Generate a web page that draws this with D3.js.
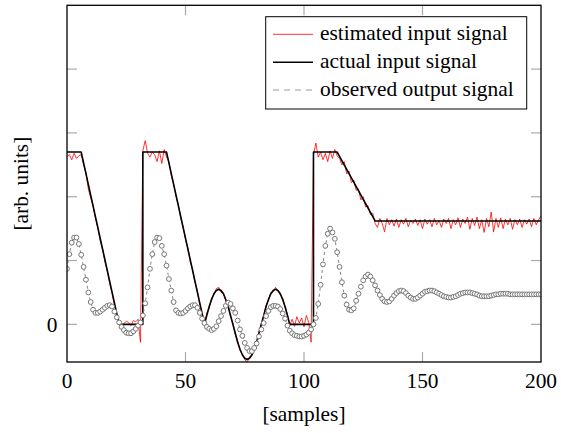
<!DOCTYPE html>
<html>
<head>
<meta charset="utf-8">
<script src="https://cdn.jsdelivr.net/npm/d3@7"></script>
<style>
  body { margin: 0; background: #fff; }
</style>
</head>
<body>
<svg id="chart" width="561" height="433" font-family="'Liberation Serif', 'Times New Roman', Times, 'DejaVu Serif', serif"></svg>
<script>
// actual input: corner points of the piecewise signal, sine part read per sample
const actualX = [0, 6, 22, 32, 32, 42, 58,
  59, 60, 61, 62, 63, 64, 65, 66, 67, 68, 69, 70, 71, 72, 73, 74, 75, 76,
  77, 78, 79, 80, 81, 82, 83, 84, 85, 86, 87, 88, 89, 90, 91, 92, 93,
  94, 104, 104, 114, 130, 200];
const actualY = [2.70, 2.70, 0, 0, 2.70, 2.70, 0,
  0.14, 0.28, 0.39, 0.48, 0.53, 0.55, 0.53, 0.48, 0.39, 0.28, 0.14, 0, -0.14, -0.28, -0.39, -0.48, -0.53, -0.55,
  -0.53, -0.48, -0.39, -0.28, -0.14, 0, 0.14, 0.28, 0.39, 0.48, 0.53, 0.55, 0.53, 0.48, 0.39, 0.28, 0.14,
  0, 0, 2.70, 2.70, 1.62, 1.62];

// estimated input, one value per sample 0..200
const estimated = [
  2.62, 2.66, 2.58, 2.68, 2.60, 2.64, 2.66, 2.50, 2.38, 2.12,
  1.98, 1.86, 1.66, 1.52, 1.31, 1.18, 0.98, 0.84, 0.64, 0.50,
  0.30, 0.16, 0.02, -0.03, 0.01, 0.05, 0.03, -0.02, 0.06, 0.04,
  0.08, -0.28, 2.72, 2.88, 2.68, 2.62, 2.70, 2.66, 2.55, 2.72,
  2.52, 2.74, 2.62, 2.55, 2.33, 2.20, 2.00, 1.88, 1.66, 1.53,
  1.33, 1.20, 0.98, 0.86, 0.66, 0.52, 0.32, 0.19, 0.03, 0.18,
  0.25, 0.41, 0.46, 0.56, 0.58, 0.50, 0.49, 0.36, 0.29, 0.12,
  0.02, -0.16, -0.26, -0.41, -0.46, -0.55, -0.60, -0.51, -0.49, -0.37,
  -0.29, -0.12, 0.02, 0.12, 0.30, 0.37, 0.50, 0.51, 0.58, 0.52,
  0.46, 0.41, 0.26, 0.16, -0.02, 0.08, -0.03, 0.12, 0.02, 0.10,
  -0.04, 0.14, 0.03, -0.28, 2.66, 2.84, 2.62, 2.70, 2.58, 2.68,
  2.55, 2.72, 2.60, 2.74, 2.64, 2.60, 2.50, 2.55, 2.36, 2.40,
  2.22, 2.26, 2.10, 2.12, 1.95, 2.00, 1.84, 1.86, 1.72, 1.74,
  1.58, 1.52, 1.66, 1.58, 1.45, 1.66, 1.56, 1.64, 1.54, 1.65,
  1.52, 1.64, 1.57, 1.66, 1.53, 1.63, 1.58, 1.65, 1.55, 1.64,
  1.50, 1.65, 1.57, 1.64, 1.53, 1.66, 1.56, 1.63, 1.52, 1.65,
  1.58, 1.66, 1.50, 1.64, 1.56, 1.67, 1.52, 1.65, 1.58, 1.68,
  1.49, 1.66, 1.55, 1.68, 1.50, 1.64, 1.44, 1.66, 1.53, 1.76,
  1.45, 1.66, 1.52, 1.67, 1.50, 1.65, 1.56, 1.66, 1.49, 1.64,
  1.56, 1.65, 1.52, 1.64, 1.57, 1.65, 1.53, 1.66, 1.56, 1.64,
  1.70
];

// observed output, one value per sample 0..200
const observed = [
  0.87, 1.10, 1.28, 1.36, 1.36, 1.26, 1.09, 0.90, 0.70, 0.50,
  0.35, 0.23, 0.18, 0.18, 0.20, 0.23, 0.26, 0.29, 0.30, 0.28,
  0.20, 0.11, 0.03, -0.04, -0.09, -0.13, -0.14, -0.14, -0.11, -0.07,
  -0.02, 0.03, 0.14, 0.33, 0.58, 0.87, 1.10, 1.29, 1.36, 1.35,
  1.23, 1.10, 0.92, 0.71, 0.53, 0.35, 0.22, 0.18, 0.17, 0.18,
  0.21, 0.25, 0.28, 0.30, 0.30, 0.26, 0.18, 0.09, 0.02, -0.04,
  -0.07, -0.09, -0.07, -0.03, 0.05, 0.13, 0.21, 0.29, 0.34, 0.32,
  0.25, 0.18, 0.06, -0.08, -0.18, -0.29, -0.37, -0.42, -0.42, -0.37,
  -0.30, -0.19, -0.08, 0.02, 0.13, 0.21, 0.27, 0.29, 0.29, 0.28,
  0.24, 0.17, 0.09, -0.02, -0.10, -0.14, -0.17, -0.18, -0.19, -0.19,
  -0.18, -0.16, -0.13, -0.08, 0.00, 0.10, 0.32, 0.62, 0.94, 1.23,
  1.42, 1.50, 1.44, 1.34, 1.13, 0.90, 0.66, 0.45, 0.31, 0.23,
  0.22, 0.25, 0.37, 0.48, 0.59, 0.69, 0.75, 0.78, 0.75, 0.69,
  0.61, 0.53, 0.46, 0.40, 0.36, 0.35, 0.36, 0.40, 0.45, 0.49,
  0.52, 0.53, 0.52, 0.49, 0.45, 0.42, 0.40, 0.40, 0.42, 0.45,
  0.48, 0.51, 0.52, 0.53, 0.53, 0.52, 0.50, 0.48, 0.46, 0.44,
  0.43, 0.42, 0.42, 0.43, 0.44, 0.46, 0.48, 0.49, 0.50, 0.50,
  0.50, 0.49, 0.48, 0.47, 0.45, 0.44, 0.44, 0.44, 0.44, 0.45,
  0.46, 0.47, 0.47, 0.48, 0.48, 0.48, 0.48, 0.47, 0.47, 0.47,
  0.47, 0.47, 0.47, 0.47, 0.47, 0.47, 0.47, 0.47, 0.47, 0.47,
  0.47
];

const xTicks = [0, 50, 100, 150, 200];
const yTicks = [0, 1, 2, 3, 4];
const yTickLabels = ["0", "", "", "", ""];
const legendLabels = ["estimated input signal", "actual input signal", "observed output signal"];

const plotLeft = 67, plotRight = 541, plotTop = 5.3, plotBottom = 362;
const fontSize = 21.4;

const svg = d3.select("#chart");

const x = d3.scaleLinear().domain([0, 200]).range([plotLeft, plotRight]);
const y = d3.scaleLinear().domain([-0.59, 5]).range([plotBottom, plotTop]);

svg.append("defs").append("clipPath")
    .attr("id", "plotClip")
    .append("rect")
    .attr("x", plotLeft).attr("y", plotTop)
    .attr("width", plotRight - plotLeft).attr("height", plotBottom - plotTop);

const plot = svg.append("g").attr("clip-path", "url(#plotClip)");

const line = d3.line().x(d => x(d[0])).y(d => y(d[1]));

// estimated input (red)
plot.append("path")
    .datum(estimated.map((v, i) => [i, v]))
    .attr("d", line)
    .attr("fill", "none")
    .attr("stroke", "#ff0000")
    .attr("stroke-width", 0.8);

// actual input (black)
plot.append("path")
    .datum(actualX.map((v, i) => [v, actualY[i]]))
    .attr("d", line)
    .attr("fill", "none")
    .attr("stroke", "#000")
    .attr("stroke-width", 1.6)
    .attr("stroke-linejoin", "round");

// observed output (gray dashed with circle marks)
const obsData = observed.map((v, i) => [i, v]);
plot.append("path")
    .datum(obsData)
    .attr("d", line)
    .attr("fill", "none")
    .attr("stroke", "#777")
    .attr("stroke-width", 0.9)
    .attr("stroke-dasharray", "3,3");

plot.selectAll("circle.obs")
    .data(obsData)
    .enter()
    .append("circle")
    .attr("class", "obs")
    .attr("cx", d => x(d[0]))
    .attr("cy", d => y(d[1]))
    .attr("r", 2.4)
    .attr("fill", "#fff")
    .attr("stroke", "#777")
    .attr("stroke-width", 1);

// ticks (inward, gray)
const tickLen = 10;
const ticks = svg.append("g").attr("stroke", "#aaaaaa").attr("stroke-width", 1.2);
xTicks.filter(t => t > 0 && t < 200).forEach(t => {
    ticks.append("line").attr("x1", x(t)).attr("x2", x(t)).attr("y1", plotBottom).attr("y2", plotBottom - tickLen);
    ticks.append("line").attr("x1", x(t)).attr("x2", x(t)).attr("y1", plotTop).attr("y2", plotTop + tickLen);
});
yTicks.forEach(t => {
    ticks.append("line").attr("x1", plotLeft).attr("x2", plotLeft + tickLen).attr("y1", y(t)).attr("y2", y(t));
    ticks.append("line").attr("x1", plotRight).attr("x2", plotRight - tickLen).attr("y1", y(t)).attr("y2", y(t));
});

// frame
svg.append("rect")
    .attr("x", plotLeft).attr("y", plotTop)
    .attr("width", plotRight - plotLeft).attr("height", plotBottom - plotTop)
    .attr("fill", "none")
    .attr("stroke", "#000")
    .attr("stroke-width", 1.3);

// tick labels
svg.selectAll("text.xtick")
    .data(xTicks)
    .enter()
    .append("text")
    .attr("class", "xtick")
    .attr("x", d => x(d))
    .attr("y", 388)
    .attr("text-anchor", "middle")
    .attr("font-size", fontSize)
    .text(d => d);

svg.selectAll("text.ytick")
    .data(yTicks)
    .enter()
    .append("text")
    .attr("class", "ytick")
    .attr("x", plotLeft - 9.5)
    .attr("y", d => y(d) + 7.5)
    .attr("text-anchor", "end")
    .attr("font-size", fontSize)
    .text((d, i) => yTickLabels[i]);

// axis labels
svg.append("text")
    .attr("x", (plotLeft + plotRight) / 2)
    .attr("y", 421)
    .attr("text-anchor", "middle")
    .attr("font-size", fontSize)
    .text("[samples]");

svg.append("text")
    .attr("transform", `translate(28, ${(plotTop + plotBottom) / 2}) rotate(-90)`)
    .attr("text-anchor", "middle")
    .attr("font-size", fontSize)
    .text("[arb. units]");

// legend
const legend = svg.append("g");
legend.append("rect")
    .attr("x", 265.7).attr("y", 16.7)
    .attr("width", 261).attr("height", 92.3)
    .attr("fill", "#fff")
    .attr("stroke", "#000")
    .attr("stroke-width", 1);

const legendStyles = [
    { stroke: "#ff0000", width: 0.8, dash: null },
    { stroke: "#000", width: 1.6, dash: null },
    { stroke: "#808080", width: 0.8, dash: "6,5" }
];
const rowY = [34.3, 62.3, 90];

legendLabels.forEach((label, i) => {
    const s = legendStyles[i];
    legend.append("line")
        .attr("x1", 273).attr("x2", 313)
        .attr("y1", rowY[i]).attr("y2", rowY[i])
        .attr("stroke", s.stroke)
        .attr("stroke-width", s.width)
        .attr("stroke-dasharray", s.dash);
    legend.append("text")
        .attr("x", 320)
        .attr("y", rowY[i] + 5.8)
        .attr("font-size", fontSize)
        .text(label);
});
</script>
</body>
</html>
